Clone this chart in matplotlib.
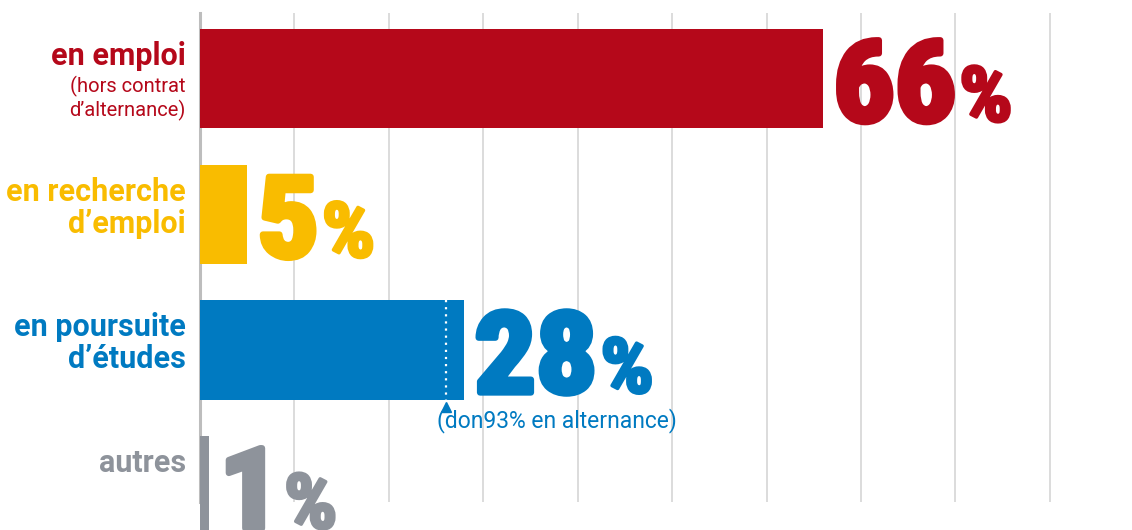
import matplotlib
matplotlib.use("Agg")
import matplotlib.pyplot as plt
import matplotlib.patheffects as pe
from matplotlib.transforms import Affine2D, offset_copy

# data
labels = ["en emploi", "en recherche\nd\u2019emploi", "en poursuite\nd\u2019\u00e9tudes", "autres"]
sublabels = ["(hors contrat\nd\u2019alternance)", "", "", ""]
values = [66, 5, 28, 1]
colors = ["#B5081A", "#F9BC00", "#007AC1", "#8E939B"]
alt_share = 93  # % of "poursuite d'études" in alternance
alt_note = "(don93% en alternance)"

TEXT_FONT = ["Roboto", "DejaVu Sans"]
NUM_FONT = ["Roboto Condensed", "Liberation Sans Narrow", "Roboto", "DejaVu Sans"]
plt.rcParams["font.family"] = TEXT_FONT


class WideStroke(pe.Stroke):
    """Stroke + fill, stretched horizontally from the text origin."""

    def __init__(self, sx=1.0, **kw):
        super().__init__(**kw)
        self._sx = sx

    def draw_path(self, renderer, gc, tpath, affine, rgbFace):
        super().draw_path(renderer, gc, tpath,
                          Affine2D().scale(self._sx, 1) + affine, rgbFace)


NUM_SX = 1.08
PCT_SX = 1.1

fig = plt.figure(figsize=(11.32, 5.30), dpi=100)
ax = fig.add_axes([200 / 1132, 28 / 530, 932 / 1132, 489 / 530])

bar_h = 0.73
ypos = list(range(len(values)))
ax.barh(ypos, values, height=bar_h, color=colors, zorder=2, clip_on=False)

ax.set_xlim(0, 98.7)
ax.set_ylim(3.12, -0.483)
ax.set_xticks(range(10, 100, 10))
ax.set_yticks([])
ax.tick_params(axis="x", length=0, labelbottom=False)
ax.grid(axis="x", color="#D6D6D6", linewidth=1.2, zorder=0)
for s in ["top", "right", "bottom"]:
    ax.spines[s].set_visible(False)
ax.spines["left"].set_color("#BDBDBD")
ax.spines["left"].set_linewidth(2.2)
ax.spines["left"].set_zorder(1)

for i, (lab, sub, v, c) in enumerate(zip(labels, sublabels, values, colors)):
    # category label, right aligned left of the axis
    t = ax.annotate(lab, xy=(0, i - bar_h / 2), xytext=(-14, -12),
                    textcoords="offset pixels", ha="right", va="top",
                    fontsize=22, fontweight="bold", color=c,
                    linespacing=1.08, annotation_clip=False)
    if sub:
        ax.annotate(sub, xy=(1, 0), xycoords=t, xytext=(0, -5),
                    textcoords="offset pixels", ha="right", va="top",
                    fontsize=14.5, color=c, linespacing=1.15)
    # big value
    num = ax.annotate(str(v), xy=(v, i + bar_h / 2), xytext=(10, 7),
                      textcoords="offset pixels", ha="left", va="baseline",
                      fontsize=81, fontweight=900, color=c, family=NUM_FONT,
                      annotation_clip=False,
                      path_effects=[WideStroke(sx=NUM_SX, linewidth=4.5,
                                               foreground=c)])
    ax.annotate("%", xy=(NUM_SX, i + bar_h / 2), xycoords=(num, "data"),
                xytext=(3, 7), textcoords="offset pixels", ha="left",
                va="baseline", fontsize=55, fontweight=900, color=c,
                family=NUM_FONT, annotation_clip=False,
                path_effects=[WideStroke(sx=PCT_SX, linewidth=2.5,
                                         foreground=c)])

# share in alternance inside "poursuite d'études"
alt_x = values[2] * alt_share / 100
ax.vlines(alt_x, 2 - bar_h / 2, 2 + bar_h / 2, colors="white",
          linestyles=(0, (1, 2.2)), linewidth=1.6, zorder=3)
tri = offset_copy(ax.transData, fig=fig, x=0, y=-7, units="dots")
ax.plot([alt_x], [2 + bar_h / 2], marker="^", markersize=7,
        color=colors[2], transform=tri, clip_on=False, zorder=3)
ax.annotate(alt_note, xy=(alt_x, 2 + bar_h / 2), xytext=(-9, -9),
            textcoords="offset pixels", ha="left", va="top",
            fontsize=16.5, color=colors[2], annotation_clip=False)

fig.savefig("out.png", dpi=100)
